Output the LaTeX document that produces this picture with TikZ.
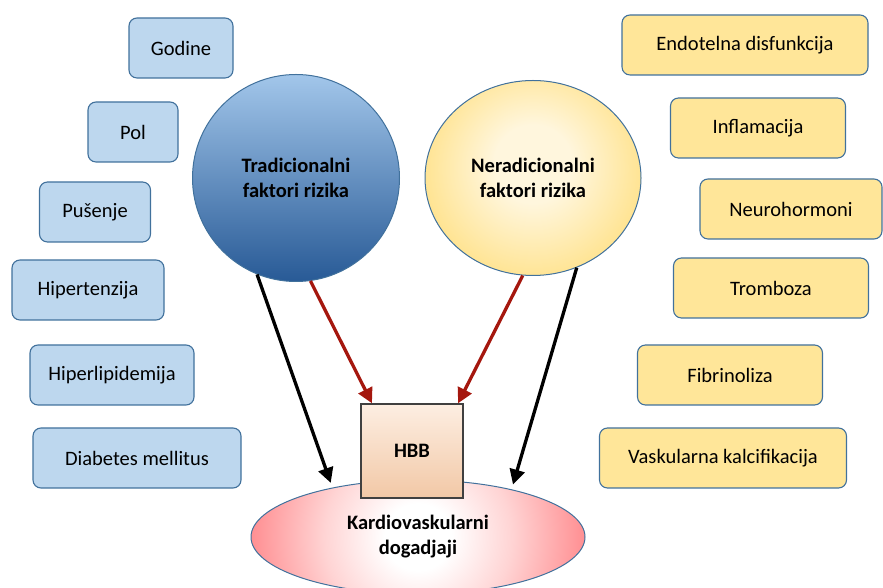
\documentclass[tikz,border=0pt]{standalone}
\usepackage{fontspec}
\setmainfont{Carlito}
\usetikzlibrary{shapes.geometric,arrows.meta}
\definecolor{boxline}{HTML}{41719C}
\definecolor{tradfill}{HTML}{BDD7EE}
\definecolor{netradfill}{HTML}{FFE699}
\definecolor{circtop}{HTML}{A2C6EA}
\definecolor{circmid}{HTML}{5A92CF}
\definecolor{circbot}{HTML}{285A96}
\definecolor{yelin}{HTML}{FFF6DD}
\definecolor{yelout}{HTML}{FFD966}
\definecolor{hbbtop}{HTML}{FDEEE2}
\definecolor{hbbbot}{HTML}{F2C8A6}
\definecolor{cvpink}{HTML}{FFD4D4}
\definecolor{cvred}{HTML}{FF7C80}
\definecolor{cvorange}{HTML}{FFA040}
\definecolor{arrowred}{HTML}{A5170E}
\pgfdeclareradialshading{cvshading}{\pgfpoint{0bp}{0bp}}{color(0bp)=(white); color(5bp)=(white); color(14bp)=(cvpink); color(28bp)=(cvred); color(33bp)=(cvorange); color(50bp)=(cvorange)}
\pgfdeclareradialshading{yelshading}{\pgfpoint{0bp}{4bp}}{color(0bp)=(yelin); color(9bp)=(yelin); color(35bp)=(yelout); color(50bp)=(yelout)}
\tikzset{
  factor/.style={draw=boxline, line width=1.1pt, rounded corners=8pt, minimum height=60pt, font=\fontsize{20.5}{25}\selectfont},
  tradbox/.style={factor, fill=tradfill},
  netradbox/.style={factor, fill=netradfill},
  bigtext/.style={align=center, font=\bfseries\fontsize{20.5}{25}\selectfont},
  blackarrow/.style={line width=3.3pt, shorten >=5pt, -{Triangle[length=15pt,width=15pt]}},
  redarrow/.style={line width=3.3pt, draw=arrowred, -{Triangle[length=15pt,width=15pt]}}
}
\begin{document}
\begin{tikzpicture}[x=1pt,y=1pt]
\useasboundingbox (0,0) rectangle (883,588);
% tradicionalni faktori
\node[tradbox, minimum width=104pt] (godine) at (181,540) {Godine};
\node[tradbox, minimum width=90pt] (pol) at (133,456) {Pol};
\node[tradbox, minimum width=111pt] (pusenje) at (95,376) {Pušenje};
\node[tradbox, minimum width=152pt] (hipertenzija) at (88,298) {Hipertenzija};
\node[tradbox, minimum width=164pt] (hiperlipidemija) at (112,213) {Hiperlipidemija};
\node[tradbox, minimum width=208pt] (diabetes) at (137,130) {Diabetes mellitus};
% netradicionalni faktori
\node[netradbox, minimum width=246pt] (endotel) at (745,543) {Endotelna disfunkcija};
\node[netradbox, minimum width=175pt] (inflamacija) at (758,460) {Inflamacija};
\node[netradbox, minimum width=182pt] (neurohormoni) at (791,379) {Neurohormoni};
\node[netradbox, minimum width=195pt] (tromboza) at (771,300) {Tromboza};
\node[netradbox, minimum width=185pt] (fibrinoliza) at (730,213) {Fibrinoliza};
\node[netradbox, minimum width=247pt] (kalcifikacija) at (723,130) {Vaskularna kalcifikacija};
% centralni deo
\node[circle, minimum size=207pt, draw=boxline, line width=1pt, top color=circtop, middle color=circmid, bottom color=circbot, bigtext] (trad) at (296,410) {Tradicionalni\\faktori rizika};
\node[ellipse, minimum width=216pt, minimum height=195pt, draw=boxline, line width=1pt, bigtext,
  path picture={\shade[shading=yelshading] (path picture bounding box.center) circle (108pt);}] (netrad) at (533,410) {Neradicionalni\\faktori rizika};
\node[ellipse, minimum width=334pt, minimum height=114pt, draw=boxline, line width=1pt, bigtext,
  path picture={\shade[shading=cvshading] (path picture bounding box.center) circle (167pt);}] (cv) at (418,51) {Kardiovaskularni\\dogadjaji};
\node[draw=black!75, line width=1.4pt, minimum width=102pt, minimum height=94pt, top color=hbbtop, bottom color=hbbbot, bigtext] (hbb) at (412,137) {HBB};
\draw[blackarrow] (trad.-112) -- (cv.150);
\draw[redarrow] (trad.-82) -- (hbb.130);
\draw[redarrow] (netrad.-96) -- (hbb.46);
\draw[blackarrow] (netrad.-64) -- (cv.27);
\end{tikzpicture}
\end{document}
